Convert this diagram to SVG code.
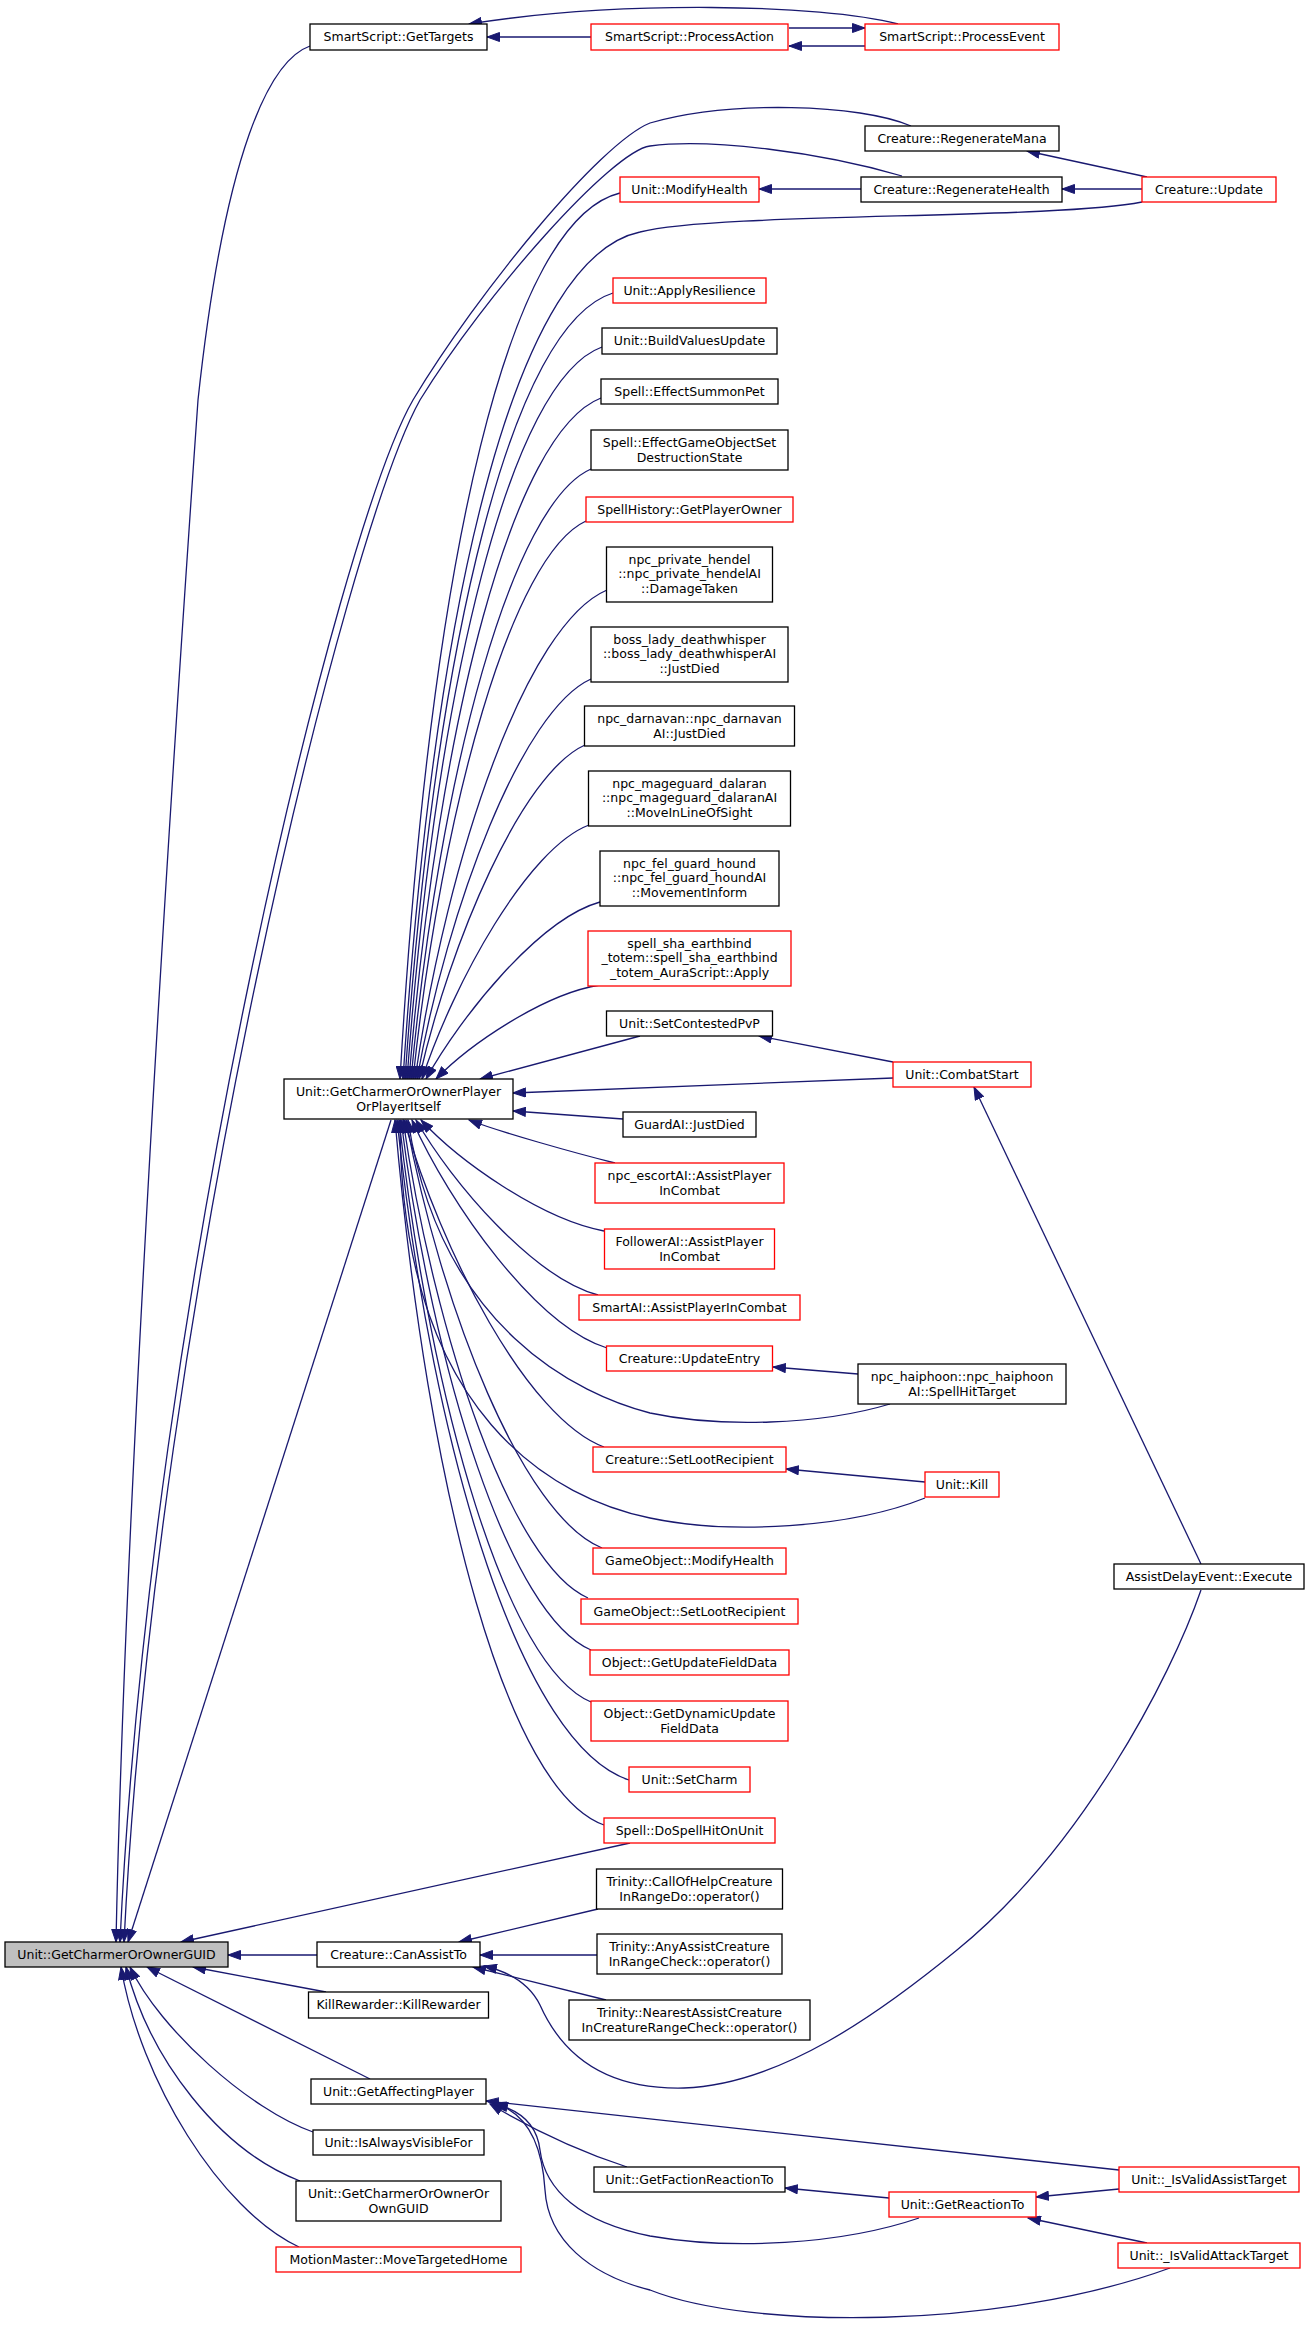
<svg xmlns="http://www.w3.org/2000/svg" width="1311" height="2330" viewBox="0 0 1311 2330">
<style>
.node rect{fill:#fff;stroke:#000;stroke-width:1.3}
.red rect{stroke:#ff0000}
.gray rect{fill:#bfbfbf}
.node text{font-family:"DejaVu Sans","Liberation Sans",sans-serif;font-size:12.5px;text-anchor:middle;fill:#000}
#edges path{fill:none;stroke:#191970;stroke-width:1.3;marker-end:url(#arr)}
</style>
<defs>
<marker id="arr" markerUnits="userSpaceOnUse" markerWidth="14" markerHeight="10" refX="13" refY="5" orient="auto" viewBox="0 0 14 10">
<path d="M0.5,0.5 L13,5 L0.5,9.5 z" fill="#191970" stroke="#191970" stroke-width="1"/>
</marker>
</defs>
<rect width="1311" height="2330" fill="#fff"/>
<g id="edges">
<path d="M310,46 C270,60 225,150 198,400 C170,800 125,1500 116,1942"/>
<path d="M911,126 C860,104 730,100 650,123 C600,143 478,292 413,400 C338,530 150,1300 120,1942"/>
<path d="M902,176 C820,152 710,138 650,146 C612,151 486,293 420,400 C346,532 156,1300 124,1942"/>
<path d="M898,24 C820,4 620,0 469,24"/>
<path d="M591,37 L487,37"/>
<path d="M865,46 L789,46"/>
<path d="M789,28 L865,28"/>
<path d="M861,189 L759,189"/>
<path d="M1142,189 L1062,189"/>
<path d="M1147,177 L1027,151"/>
<path d="M620,193 C510,220 431,547 400,1079"/>
<path d="M1142,202 C1050,220 720,212 640,232 C521,257 436,570 403,1079"/>
<path d="M613,293 C513,324 436,634 405,1079"/>
<path d="M602,347 C511,380 437,679 407,1079"/>
<path d="M601,398 C513,432 439,719 409,1079"/>
<path d="M591,469 C512,504 440,771 411,1079"/>
<path d="M586,521 C512,555 442,807 413,1079"/>
<path d="M607,590 C527,624 448,853 415,1079"/>
<path d="M591,679 C522,710 448,906 417,1079"/>
<path d="M585,745 C522,773 450,942 419,1079"/>
<path d="M589,825 C528,848 454,982 422,1079"/>
<path d="M600,902 C539,919 461,1016 426,1079"/>
<path d="M600,985 C543,994 469,1045 436,1079"/>
<path d="M640,1036 L480,1079"/>
<path d="M893,1062 L759,1036"/>
<path d="M893,1078 L513,1093"/>
<path d="M623,1119 L513,1111"/>
<path d="M615,1163 C575,1153 500,1132 469,1120"/>
<path d="M604,1231 C540,1219 458,1160 421,1120"/>
<path d="M598,1295 C534,1278 452,1183 416,1120"/>
<path d="M607,1348 C536,1326 450,1205 412,1120"/>
<path d="M890,1404 C820,1425 720,1428 650,1413 C580,1395 440,1330 408,1120"/>
<path d="M604,1447 C528,1419 441,1252 404,1120"/>
<path d="M925,1498 C850,1528 730,1535 650,1518 C560,1500 400,1420 400,1120"/>
<path d="M602,1548 C523,1516 441,1309 406,1120"/>
<path d="M588,1598 C512,1565 435,1339 403,1120"/>
<path d="M591,1650 C510,1616 433,1373 401,1120"/>
<path d="M591,1702 C507,1667 431,1406 399,1120"/>
<path d="M629,1780 C524,1746 434,1464 397,1120"/>
<path d="M604,1825 C508,1791 428,1498 395,1120"/>
<path d="M858,1374 L773,1367"/>
<path d="M925,1482 L786,1469"/>
<path d="M391,1120 L128,1942"/>
<path d="M630,1843 L181,1942"/>
<path d="M317,1955 L228,1955"/>
<path d="M326,1992 L193,1967"/>
<path d="M370,2079 L147,1967"/>
<path d="M313,2132 C250,2110 160,2030 130,1967"/>
<path d="M300,2181 C220,2150 150,2060 126,1967"/>
<path d="M299,2247 C220,2210 140,2080 121,1967"/>
<path d="M598,1909 L459,1942"/>
<path d="M597,1955 L480,1955"/>
<path d="M606,2000 L473,1967"/>
<path d="M1201,1564 L974,1087"/>
<path d="M1201,1590 C1170,1680 1080,1850 957,1950 C880,2013 780,2085 684,2088 C600,2090 560,2050 540,2005 C530,1985 510,1972 484,1966"/>
<path d="M1119,2170 L486,2101"/>
<path d="M627,2167 C575,2150 530,2128 490,2104"/>
<path d="M919,2218 C840,2245 730,2250 650,2236 C580,2222 545,2190 540,2150 C537,2125 520,2110 495,2104"/>
<path d="M1170,2268 C1000,2330 750,2330 650,2290 C590,2275 548,2240 545,2190 C542,2140 525,2112 494,2103"/>
<path d="M889,2198 L785,2188"/>
<path d="M1119,2189 L1036,2197"/>
<path d="M1147,2243 L1028,2218"/>
</g>
<g id="n_getTargets" class="node"><rect x="310" y="24" width="177" height="26"/><text x="398.5" y="41">SmartScript::GetTargets</text></g>
<g id="n_processAction" class="node red"><rect x="591" y="24" width="197" height="26"/><text x="689.5" y="41">SmartScript::ProcessAction</text></g>
<g id="n_processEvent" class="node red"><rect x="865" y="24" width="194" height="26"/><text x="962" y="41">SmartScript::ProcessEvent</text></g>
<g id="n_regenMana" class="node"><rect x="865" y="126" width="194" height="25"/><text x="962" y="143">Creature::RegenerateMana</text></g>
<g id="n_modifyHealth" class="node red"><rect x="620" y="177" width="139" height="25"/><text x="689.5" y="194">Unit::ModifyHealth</text></g>
<g id="n_regenHealth" class="node"><rect x="861" y="177" width="201" height="25"/><text x="961.5" y="194">Creature::RegenerateHealth</text></g>
<g id="n_update" class="node red"><rect x="1142" y="177" width="134" height="25"/><text x="1209" y="194">Creature::Update</text></g>
<g id="n_applyResilience" class="node red"><rect x="613" y="278" width="153" height="25"/><text x="689.5" y="295">Unit::ApplyResilience</text></g>
<g id="n_buildValues" class="node"><rect x="602" y="328" width="175" height="26"/><text x="689.5" y="345">Unit::BuildValuesUpdate</text></g>
<g id="n_effectSummonPet" class="node"><rect x="601" y="379" width="177" height="25"/><text x="689.5" y="396">Spell::EffectSummonPet</text></g>
<g id="n_effectGO" class="node"><rect x="591" y="430" width="197" height="40"/><text x="689.5" y="447">Spell::EffectGameObjectSet</text><text x="689.5" y="461.5">DestructionState</text></g>
<g id="n_spellHistory" class="node red"><rect x="586" y="497" width="207" height="25"/><text x="689.5" y="514">SpellHistory::GetPlayerOwner</text></g>
<g id="n_hendel" class="node"><rect x="606.5" y="547" width="166" height="55"/><text x="689.5" y="563.5">npc_private_hendel</text><text x="689.5" y="578">::npc_private_hendelAI</text><text x="689.5" y="592.5">::DamageTaken</text></g>
<g id="n_bossLady" class="node"><rect x="591" y="627" width="197" height="55"/><text x="689.5" y="643.5">boss_lady_deathwhisper</text><text x="689.5" y="658">::boss_lady_deathwhisperAI</text><text x="689.5" y="672.5">::JustDied</text></g>
<g id="n_darnavan" class="node"><rect x="584.5" y="706" width="210" height="40"/><text x="689.5" y="723">npc_darnavan::npc_darnavan</text><text x="689.5" y="737.5">AI::JustDied</text></g>
<g id="n_mageguard" class="node"><rect x="588.5" y="771" width="202" height="55"/><text x="689.5" y="787.5">npc_mageguard_dalaran</text><text x="689.5" y="802">::npc_mageguard_dalaranAI</text><text x="689.5" y="816.5">::MoveInLineOfSight</text></g>
<g id="n_felguard" class="node"><rect x="600" y="851" width="179" height="55"/><text x="689.5" y="867.5">npc_fel_guard_hound</text><text x="689.5" y="882">::npc_fel_guard_houndAI</text><text x="689.5" y="896.5">::MovementInform</text></g>
<g id="n_spellSha" class="node red"><rect x="588" y="931" width="203" height="55"/><text x="689.5" y="947.5">spell_sha_earthbind</text><text x="689.5" y="962">_totem::spell_sha_earthbind</text><text x="689.5" y="976.5">_totem_AuraScript::Apply</text></g>
<g id="n_setContestedPvP" class="node"><rect x="606.5" y="1011" width="166" height="25"/><text x="689.5" y="1028">Unit::SetContestedPvP</text></g>
<g id="n_charmerPlayer" class="node"><rect x="284" y="1079" width="229" height="40"/><text x="398.5" y="1096">Unit::GetCharmerOrOwnerPlayer</text><text x="398.5" y="1110.5">OrPlayerItself</text></g>
<g id="n_combatStart" class="node red"><rect x="893" y="1062" width="138" height="25"/><text x="962" y="1079">Unit::CombatStart</text></g>
<g id="n_guardAI" class="node"><rect x="623" y="1112" width="133" height="25"/><text x="689.5" y="1129">GuardAI::JustDied</text></g>
<g id="n_escortAI" class="node red"><rect x="595" y="1163" width="189" height="40"/><text x="689.5" y="1180">npc_escortAI::AssistPlayer</text><text x="689.5" y="1194.5">InCombat</text></g>
<g id="n_followerAI" class="node red"><rect x="604.5" y="1229" width="170" height="40"/><text x="689.5" y="1246">FollowerAI::AssistPlayer</text><text x="689.5" y="1260.5">InCombat</text></g>
<g id="n_smartAI" class="node red"><rect x="579" y="1295" width="221" height="25"/><text x="689.5" y="1312">SmartAI::AssistPlayerInCombat</text></g>
<g id="n_updateEntry" class="node red"><rect x="606.5" y="1346" width="166" height="25"/><text x="689.5" y="1363">Creature::UpdateEntry</text></g>
<g id="n_haiphoon" class="node"><rect x="858" y="1364" width="208" height="40"/><text x="962" y="1381">npc_haiphoon::npc_haiphoon</text><text x="962" y="1395.5">AI::SpellHitTarget</text></g>
<g id="n_setLootRecipient" class="node red"><rect x="593" y="1447" width="193" height="25"/><text x="689.5" y="1464">Creature::SetLootRecipient</text></g>
<g id="n_kill" class="node red"><rect x="925" y="1472" width="74" height="25"/><text x="962" y="1489">Unit::Kill</text></g>
<g id="n_goModifyHealth" class="node red"><rect x="593" y="1548" width="193" height="26"/><text x="689.5" y="1565">GameObject::ModifyHealth</text></g>
<g id="n_goSetLoot" class="node red"><rect x="581" y="1599" width="217" height="25"/><text x="689.5" y="1616">GameObject::SetLootRecipient</text></g>
<g id="n_getUpdateField" class="node red"><rect x="590" y="1650" width="199" height="25"/><text x="689.5" y="1667">Object::GetUpdateFieldData</text></g>
<g id="n_getDynamic" class="node red"><rect x="591" y="1701" width="197" height="40"/><text x="689.5" y="1718">Object::GetDynamicUpdate</text><text x="689.5" y="1732.5">FieldData</text></g>
<g id="n_setCharm" class="node red"><rect x="629" y="1767" width="121" height="25"/><text x="689.5" y="1784">Unit::SetCharm</text></g>
<g id="n_doSpellHit" class="node red"><rect x="604" y="1818" width="171" height="25"/><text x="689.5" y="1835">Spell::DoSpellHitOnUnit</text></g>
<g id="n_callOfHelp" class="node"><rect x="596.5" y="1869" width="186" height="40"/><text x="689.5" y="1886">Trinity::CallOfHelpCreature</text><text x="689.5" y="1900.5">InRangeDo::operator()</text></g>
<g id="n_anyAssist" class="node"><rect x="597" y="1934" width="185" height="40"/><text x="689.5" y="1951">Trinity::AnyAssistCreature</text><text x="689.5" y="1965.5">InRangeCheck::operator()</text></g>
<g id="n_main" class="node gray"><rect x="5" y="1942" width="223" height="25"/><text x="116.5" y="1959">Unit::GetCharmerOrOwnerGUID</text></g>
<g id="n_canAssistTo" class="node"><rect x="317" y="1942" width="163" height="25"/><text x="398.5" y="1959">Creature::CanAssistTo</text></g>
<g id="n_nearestAssist" class="node"><rect x="569" y="2000" width="241" height="40"/><text x="689.5" y="2017">Trinity::NearestAssistCreature</text><text x="689.5" y="2031.5">InCreatureRangeCheck::operator()</text></g>
<g id="n_killRewarder" class="node"><rect x="308.5" y="1992" width="180" height="26"/><text x="398.5" y="2009">KillRewarder::KillRewarder</text></g>
<g id="n_affectingPlayer" class="node"><rect x="311" y="2079" width="175" height="25"/><text x="398.5" y="2096">Unit::GetAffectingPlayer</text></g>
<g id="n_alwaysVisible" class="node"><rect x="313" y="2130" width="171" height="25"/><text x="398.5" y="2147">Unit::IsAlwaysVisibleFor</text></g>
<g id="n_ownGUID" class="node"><rect x="296" y="2181" width="205" height="40"/><text x="398.5" y="2198">Unit::GetCharmerOrOwnerOr</text><text x="398.5" y="2212.5">OwnGUID</text></g>
<g id="n_motionMaster" class="node red"><rect x="276" y="2247" width="245" height="25"/><text x="398.5" y="2264">MotionMaster::MoveTargetedHome</text></g>
<g id="n_factionReaction" class="node"><rect x="594" y="2167" width="191" height="25"/><text x="689.5" y="2184">Unit::GetFactionReactionTo</text></g>
<g id="n_reactionTo" class="node red"><rect x="889" y="2192" width="147" height="25"/><text x="962.5" y="2209">Unit::GetReactionTo</text></g>
<g id="n_validAssist" class="node red"><rect x="1119" y="2167" width="180" height="25"/><text x="1209" y="2184">Unit::_IsValidAssistTarget</text></g>
<g id="n_validAttack" class="node red"><rect x="1118" y="2243" width="182" height="25"/><text x="1209" y="2260">Unit::_IsValidAttackTarget</text></g>
<g id="n_assistDelay" class="node"><rect x="1114" y="1564" width="190" height="25"/><text x="1209" y="1581">AssistDelayEvent::Execute</text></g>
</svg>
